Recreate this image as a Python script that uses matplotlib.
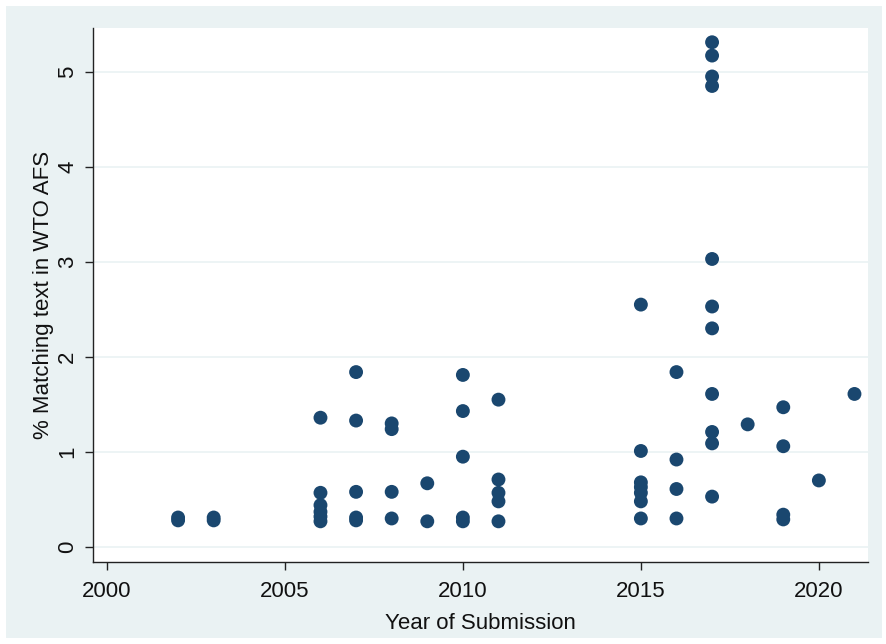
import matplotlib
matplotlib.use("Agg")
import matplotlib.pyplot as plt
from matplotlib.patches import Rectangle

plt.rcParams['font.family'] = ['Liberation Sans', 'DejaVu Sans']

years = [2002, 2002, 2003, 2003,
         2006, 2006, 2006, 2006, 2006, 2006,
         2007, 2007, 2007, 2007, 2007,
         2008, 2008, 2008, 2008,
         2009, 2009,
         2010, 2010, 2010, 2010, 2010,
         2011, 2011, 2011, 2011, 2011,
         2015, 2015, 2015, 2015, 2015, 2015, 2015,
         2016, 2016, 2016, 2016,
         2017, 2017, 2017, 2017, 2017, 2017, 2017, 2017, 2017, 2017, 2017,
         2018,
         2019, 2019, 2019, 2019,
         2020, 2021]
matching_pct = [0.28, 0.31, 0.28, 0.31,
                1.36, 0.57, 0.44, 0.37, 0.32, 0.27,
                1.84, 1.33, 0.58, 0.31, 0.28,
                1.30, 1.24, 0.58, 0.30,
                0.67, 0.27,
                1.81, 1.43, 0.95, 0.31, 0.27,
                1.55, 0.71, 0.57, 0.48, 0.27,
                2.55, 1.01, 0.68, 0.63, 0.57, 0.48, 0.30,
                1.84, 0.92, 0.61, 0.30,
                5.31, 5.17, 4.95, 4.85, 3.03, 2.53, 2.30, 1.61, 1.21, 1.09, 0.53,
                1.29,
                1.47, 1.06, 0.34, 0.29,
                0.70, 1.61]

x_ticks = [2000, 2005, 2010, 2015, 2020]
y_ticks = [0, 1, 2, 3, 4, 5]

W, H = 887, 644
fig = plt.figure(figsize=(W / 100, H / 100), dpi=100)
fig.patch.set_facecolor('white')
bg = '#EAF2F3'
fig.patches.append(Rectangle((6 / W, 1 - 638 / H), (882 - 6) / W, (638 - 6) / H,
                             transform=fig.transFigure, facecolor=bg,
                             edgecolor='none', zorder=-10))

left, right, top, bottom = 93, 868, 28, 562
ax = fig.add_axes([left / W, 1 - bottom / H, (right - left) / W, (bottom - top) / H])
ax.set_zorder(5)
ax.set_facecolor('white')

ax.scatter(years, matching_pct, s=100, color='#1A476F', edgecolors='none', zorder=3)

ax.set_xlim(1999.61, 2021.38)
ax.set_ylim(-0.158, 5.46)
ax.set_xticks(x_ticks)
ax.set_yticks(y_ticks)
ax.set_yticklabels([str(v) for v in y_ticks], rotation=90, va='center')
ax.grid(axis='y', color='#EAF2F3', linewidth=1.2, zorder=1)
ax.grid(axis='x', visible=False)

for s in ['top', 'right']:
    ax.spines[s].set_visible(False)
for s in ['left', 'bottom']:
    ax.spines[s].set_color('#222222')
    ax.spines[s].set_linewidth(1.0)

ax.tick_params(axis='both', labelsize=16, length=5.8, width=1.0, color='#222222',
               labelcolor='#111111')
ax.tick_params(axis='x', pad=8)
ax.tick_params(axis='y', pad=5)

ax.set_xlabel('Year of Submission', fontsize=16, color='#111111', labelpad=7.5)
ax.set_ylabel('% Matching text in WTO AFS', fontsize=16, color='#111111', labelpad=2)

fig.savefig('out.png', dpi=100, facecolor=fig.get_facecolor())
